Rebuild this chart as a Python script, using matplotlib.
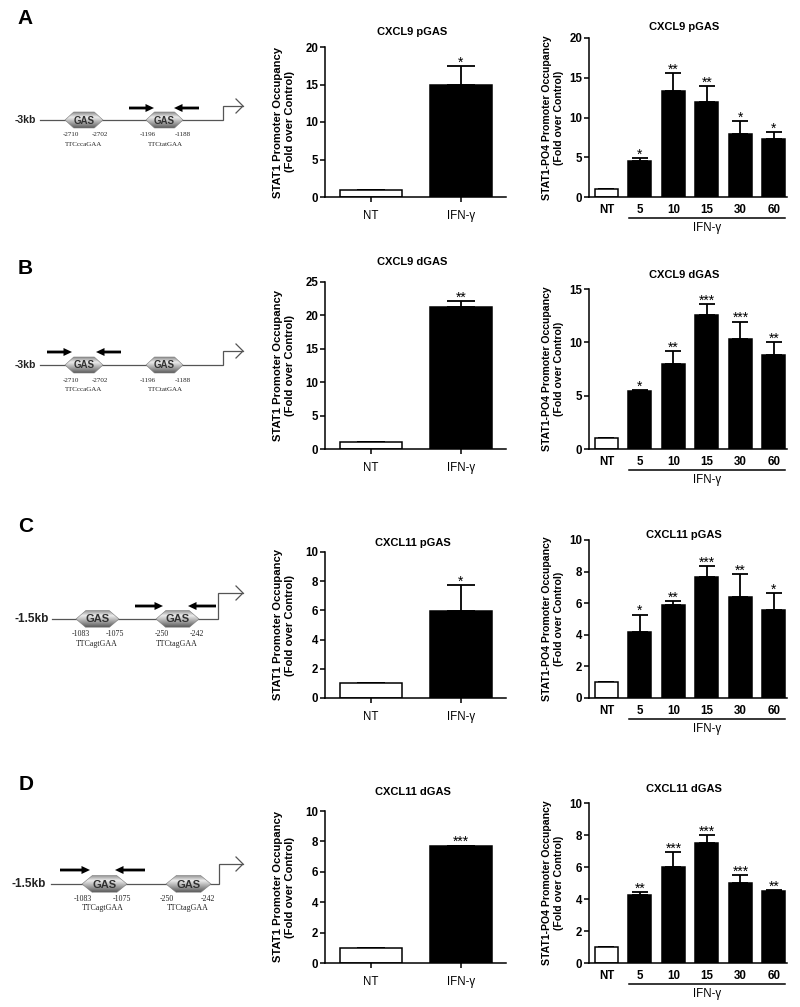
import numpy as np
import matplotlib
matplotlib.use('Agg')
import matplotlib.pyplot as plt
from matplotlib.patches import Polygon, FancyArrow
from matplotlib.colors import LinearSegmentedColormap
import matplotlib.transforms as mtransforms

plt.rcParams['font.family'] = ['Liberation Sans', 'DejaVu Sans']

# ---------------- data ----------------
panel_letters = ['A', 'B', 'C', 'D']
titles = ['CXCL9 pGAS', 'CXCL9 dGAS', 'CXCL11 pGAS', 'CXCL11 dGAS']

mid_cats = ['NT', 'IFN-γ']
mid_vals = [[1.0, 15.0], [1.0, 21.2], [1.0, 5.94], [1.0, 7.68]]
mid_errs = [[0.0, 2.5], [0.0, 1.0], [0.0, 1.78], [0.0, 0.05]]
mid_sig = [['', '*'], ['', '**'], ['', '*'], ['', '***']]
mid_yticks = [[0, 5, 10, 15, 20], [0, 5, 10, 15, 20, 25],
              [0, 2, 4, 6, 8, 10], [0, 2, 4, 6, 8, 10]]

time_cats = ['NT', '5', '10', '15', '30', '60']
right_vals = [[1.0, 4.5, 13.3, 11.95, 7.95, 7.25],
              [1.0, 5.4, 8.0, 12.55, 10.3, 8.8],
              [1.0, 4.2, 5.9, 7.65, 6.42, 5.6],
              [1.0, 4.27, 6.02, 7.48, 5.0, 4.48]]
right_errs = [[0.0, 0.4, 2.25, 1.95, 1.6, 0.9],
              [0.0, 0.1, 1.2, 1.05, 1.65, 1.2],
              [0.0, 1.08, 0.23, 0.72, 1.41, 1.07],
              [0.0, 0.15, 0.9, 0.5, 0.52, 0.08]]
right_sig = [['', '*', '**', '**', '*', '*'],
             ['', '*', '**', '***', '***', '**'],
             ['', '*', '**', '***', '**', '*'],
             ['', '**', '***', '***', '***', '**']]
right_yticks = [[0, 5, 10, 15, 20], [0, 5, 10, 15],
                [0, 2, 4, 6, 8, 10], [0, 2, 4, 6, 8, 10]]
treat_label = 'IFN-γ'

# ---------------- figure ----------------
W, H = 800, 1007
fig = plt.figure(figsize=(W / 100, H / 100), dpi=100)

# overlay for schematics and panel letters (pixel coordinates)
ov = fig.add_axes([0, 0, 1, 1])
ov.patch.set_visible(False)
ov.axis('off')
ov.set_autoscale_on(False)
ov.set_xlim(0, W)
ov.set_ylim(H, 0)

cmap = LinearSegmentedColormap.from_list(
    'gas', [(0, '#8e8e8e'), (0.32, '#ececec'), (1, '#5e5e5e')])
grad = np.linspace(0, 1, 64).reshape(-1, 1)


def hexagon(x0, x1, yc, h, fs):
    p = 0.23 * (x1 - x0)
    pts = [(x0, yc), (x0 + p, yc - h / 2), (x1 - p, yc - h / 2), (x1, yc),
           (x1 - p, yc + h / 2), (x0 + p, yc + h / 2)]
    poly = Polygon(pts, closed=True, facecolor='none', edgecolor='#7a7a7a',
                   lw=0.4, zorder=3)
    ov.add_patch(poly)
    im = ov.imshow(grad, cmap=cmap, extent=(x0, x1, yc + h / 2, yc - h / 2),
                   aspect='auto', zorder=2, interpolation='bilinear')
    im.set_clip_path(poly)
    ov.text((x0 + x1) / 2, yc + 0.5, 'GAS', ha='center', va='center',
            fontsize=fs, fontweight='bold', color='#303030', zorder=4)


def primer(x0, x1, y):
    ov.add_patch(FancyArrow(x0, y, x1 - x0, 0, width=2.8, head_width=8,
                            head_length=8.5, length_includes_head=True,
                            color='black', lw=0, zorder=3))


schemes = [
    dict(label='-3kb', lx=25, lfs=7.5, y=120, x0=40, bx=223, top=106,
         gas=[(65, 103), (146, 183)], h=16, gfs=7,
         nums=[('-2710', 71), ('-2702', 100), ('-1196', 148), ('-1188', 183)],
         seqs=[('TTCccaGAA', 84), ('TTCtatGAA', 165)], tfs=5.0,
         arrows=[(129, 154), (199, 174)], ay=108),
    dict(label='-3kb', lx=25, lfs=7.5, y=365, x0=40, bx=223, top=351,
         gas=[(65, 103), (146, 183)], h=16, gfs=7,
         nums=[('-2710', 71), ('-2702', 100), ('-1196', 148), ('-1188', 183)],
         seqs=[('TTCccaGAA', 84), ('TTCtatGAA', 165)], tfs=5.0,
         arrows=[(47, 72), (121, 96)], ay=352),
    dict(label='-1.5kb', lx=32, lfs=8.5, y=619, x0=52, bx=218, top=593,
         gas=[(76, 119), (156, 199)], h=17, gfs=8,
         nums=[('-1083', 81), ('-1075', 115), ('-250', 162), ('-242', 197)],
         seqs=[('TTCagtGAA', 97), ('TTCtagGAA', 177)], tfs=5.7,
         arrows=[(135, 163), (216, 188)], ay=606),
    dict(label='-1.5kb', lx=29, lfs=8.5, y=884, x0=51, bx=219, top=864,
         gas=[(82, 127), (166, 211)], h=17, gfs=8,
         nums=[('-1083', 83), ('-1075', 122), ('-250', 167), ('-242', 208)],
         seqs=[('TTCagtGAA', 103), ('TTCtagGAA', 188)], tfs=5.7,
         arrows=[(60, 90), (145, 115)], ay=870),
]

for s in schemes:
    y = s['y']
    ov.text(s['lx'], y, s['label'], ha='center', va='center',
            fontsize=s['lfs'], fontweight='bold', color='#222222')
    ov.plot([s['x0'], s['bx'], s['bx'], 243], [y, y, s['top'], s['top']],
            color='#555555', lw=0.9, zorder=1, solid_joinstyle='miter')
    ov.plot([236, 243, 236], [s['top'] - 7, s['top'], s['top'] + 7],
            color='#555555', lw=0.9, zorder=1)
    for (a, b) in s['gas']:
        hexagon(a, b, y, s['h'], s['gfs'])
    for (t, x) in s['nums']:
        ov.text(x, y + 15, t, ha='center', va='center', fontsize=s['tfs'],
                family=['Liberation Serif', 'DejaVu Serif'], color='#222222')
    for (t, x) in s['seqs']:
        ov.text(x, y + 24.5, t, ha='center', va='center', fontsize=s['tfs'],
                family=['Liberation Serif', 'DejaVu Serif'], color='#222222')
    for (a, b) in s['arrows']:
        primer(a, b, s['ay'])

letter_pos = [(25, 18), (25, 268), (26, 527), (26, 785)]
for L, (x, y) in zip(panel_letters, letter_pos):
    ov.text(x, y, L, ha='center', va='center', fontsize=15, fontweight='bold')


def px_axes(L, T, R, B):
    return fig.add_axes([L / W, 1 - B / H, (R - L) / W, (B - T) / H])


def style(ax, yticks):
    for sp in ['top', 'right']:
        ax.spines[sp].set_visible(False)
    for sp in ['left', 'bottom']:
        ax.spines[sp].set_linewidth(1.1)
    ax.set_ylim(0, yticks[-1])
    ax.set_yticks(yticks)
    ax.tick_params(axis='y', length=3.5, width=1.1, labelsize=8.3, pad=1.5)
    for lab in ax.get_yticklabels():
        lab.set_fontweight('bold')


def draw_bars(ax, vals, errs, sig, width, cap):
    x = np.arange(len(vals))
    colors = ['white'] + ['black'] * (len(vals) - 1)
    ax.errorbar(x, vals, yerr=[np.zeros(len(vals)), errs], fmt='none',
                ecolor='black', elinewidth=1.3, capsize=cap, capthick=1.3,
                zorder=1)
    ax.bar(x, vals, width=width, color=colors, edgecolor='black',
           linewidth=1.1, zorder=2)
    for xi, v, e, s in zip(x, vals, errs, sig):
        if s:
            ax.annotate(s, (xi, v + e), xytext=(0, -0.5),
                        textcoords='offset points', ha='center',
                        va='baseline', fontsize=10)


mid_rows = [(47, 197), (282, 449), (552, 698), (811, 963)]
right_rows = [(38, 197), (289, 449), (540, 698), (803, 963)]
mid_title_y = [32, 262, 543, 792]
right_title_y = [27, 275, 535, 789]
ML, MR = 325, 506
RL, RR = 589, 787

for i in range(4):
    # middle panel
    T, B = mid_rows[i]
    ax = px_axes(ML, T, MR, B)
    draw_bars(ax, mid_vals[i], mid_errs[i], mid_sig[i], 0.68, 10)
    style(ax, mid_yticks[i])
    ax.set_xlim(-0.51, 1.5)
    ax.set_xticks([0, 1])
    ax.set_xticklabels(mid_cats, fontsize=8.3)
    ax.tick_params(axis='x', length=3.5, width=1.1, pad=6)
    ax.set_ylabel('STAT1 Promoter Occupancy\n(Fold over Control)',
                  fontsize=8.1, fontweight='bold', linespacing=1.2)
    ax.yaxis.set_label_coords(-0.166, 0.5)
    fig.text((ML + MR) / 2 / W - 3 / W, 1 - mid_title_y[i] / H, titles[i],
             ha='center', va='center', fontsize=8, fontweight='bold')

    # right panel
    T, B = right_rows[i]
    ax = px_axes(RL, T, RR, B)
    draw_bars(ax, right_vals[i], right_errs[i], right_sig[i], 0.69, 5.5)
    style(ax, right_yticks[i])
    ax.set_xlim(-0.52, 5.39)
    ax.set_xticks(range(len(time_cats)))
    ax.set_xticklabels(time_cats, fontsize=8.3, fontweight='bold')
    ax.tick_params(axis='x', length=0, pad=5)
    ax.set_ylabel('STAT1-PO4 Promoter Occupancy\n(Fold over Control)',
                  fontsize=7.6, fontweight='bold', linespacing=1.25)
    ax.yaxis.set_label_coords(-0.125, 0.5)
    hpx = B - T
    tr = mtransforms.blended_transform_factory(ax.transData, ax.transAxes)
    ax.plot([0.66, 5.34], [-21 / hpx, -21 / hpx], color='black', lw=1.1,
            transform=tr, clip_on=False)
    ax.text(3.0, -31 / hpx, treat_label, transform=tr, ha='center',
            va='center', fontsize=8.3)
    fig.text((RL + RR) / 2 / W - 4 / W, 1 - right_title_y[i] / H, titles[i],
             ha='center', va='center', fontsize=8, fontweight='bold')

fig.savefig('out.png', dpi=100)
